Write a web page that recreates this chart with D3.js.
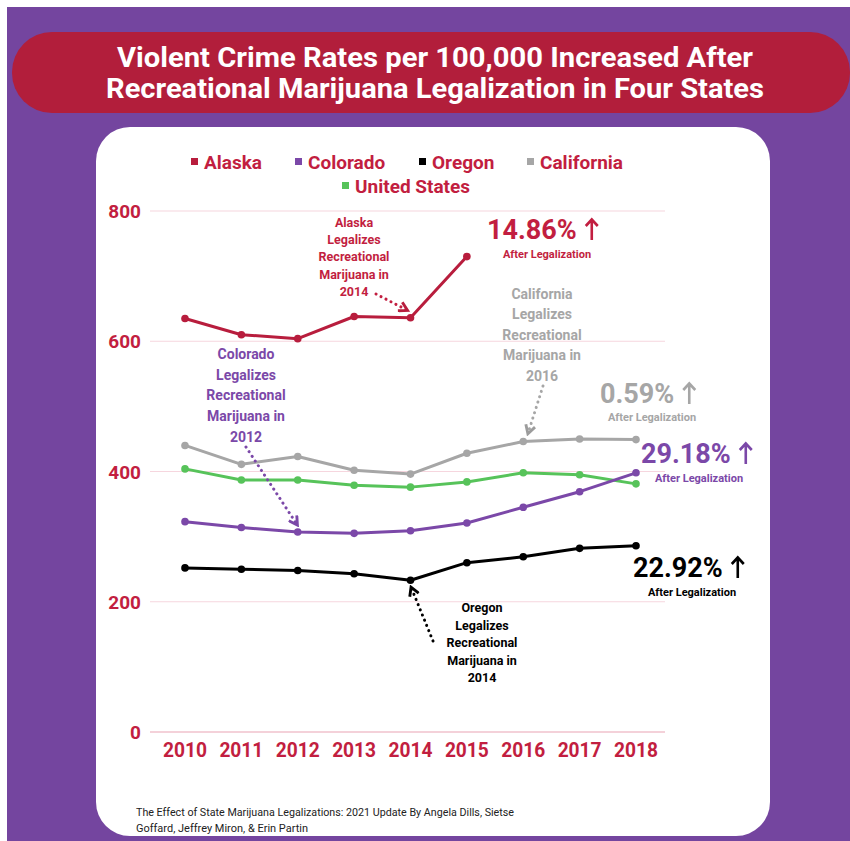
<!DOCTYPE html>
<html>
<head>
<meta charset="utf-8">
<script src="https://d3js.org/d3.v7.min.js"></script>
<style>
    body { margin: 0; background: #fff; font-family: Roboto, "Noto Sans", sans-serif; }
    svg text { font-family: Roboto, "Noto Sans", sans-serif; font-weight: bold; }
</style>
</head>
<body>
<script>
// data (violent crimes per 100,000)
var years = [2010, 2011, 2012, 2013, 2014, 2015, 2016, 2017, 2018];
var alaska = [635, 610, 604, 638, 636, 730];
var colorado = [323, 314, 307, 305, 309, 321, 345, 369, 398];
var oregon = [252, 250, 248, 243, 233, 260, 269, 282, 286];
var california = [440, 411, 423, 402, 396, 428, 446, 450, 449];
var unitedStates = [404, 387, 387, 379, 376, 384, 398, 395, 381];
var yTicks = [0, 200, 400, 600, 800];

var seriesNames = ["Alaska", "Colorado", "Oregon", "California", "United States"];
var seriesValues = [alaska, colorado, oregon, california, unitedStates];
var seriesColors = ["#B81D3D", "#7B48A8", "#000000", "#A6A6A6", "#57C35A"];

var red = "#C21E40";
var purpleBg = "#74459F";

var svg = d3.select("body").append("svg")
    .attr("width", 850)
    .attr("height", 841);

// background + card
svg.append("rect").attr("x", 0).attr("y", 0).attr("width", 850).attr("height", 841).attr("fill", "#fff");
svg.append("rect").attr("x", 7).attr("y", 7).attr("width", 843).attr("height", 834).attr("fill", purpleBg);
svg.append("rect").attr("x", 12).attr("y", 32).attr("width", 838).attr("height", 81)
    .attr("rx", 40).attr("fill", "#B21E3B");
svg.append("rect").attr("x", 96).attr("y", 127).attr("width", 674).attr("height", 709)
    .attr("rx", 34).attr("fill", "#fff");

// title
var title = ["Violent Crime Rates per 100,000 Increased After",
    "Recreational Marijuana Legalization in Four States"];
var titleW = [636, 658];
title.forEach(function(t, i) {
    svg.append("text")
        .attr("x", 435).attr("y", 67 + i * 31)
        .attr("text-anchor", "middle")
        .attr("fill", "#fff")
        .style("font-size", "28px")
        .attr("textLength", titleW[i])
        .attr("lengthAdjust", "spacingAndGlyphs")
        .text(t);
});

var x = d3.scaleLinear().domain([2010, 2018]).range([185, 636]);
var y = d3.scaleLinear().domain([0, 800]).range([732, 211]);

// grid
svg.append("g").selectAll("line")
    .data(yTicks)
    .enter().append("line")
    .attr("x1", 150).attr("x2", 665)
    .attr("y1", function(d) { return y(d); })
    .attr("y2", function(d) { return y(d); })
    .attr("stroke", function(d) { return d === 0 ? "#E9A3B3" : "#F6D6DE"; })
    .attr("stroke-width", 1.2);

svg.append("g").selectAll("text")
    .data(yTicks)
    .enter().append("text")
    .attr("x", 141)
    .attr("y", function(d) { return y(d) + 7; })
    .attr("text-anchor", "end")
    .attr("fill", red)
    .style("font-size", "19px")
    .text(function(d) { return d; });

svg.append("g").selectAll("text")
    .data(years)
    .enter().append("text")
    .attr("x", function(d) { return x(d); })
    .attr("y", 757)
    .attr("text-anchor", "middle")
    .attr("fill", red)
    .style("font-size", "20px")
    .attr("textLength", 44)
    .attr("lengthAdjust", "spacingAndGlyphs")
    .text(function(d) { return d; });

// lines
var line = d3.line()
    .x(function(d, i) { return x(years[i]); })
    .y(function(d) { return y(d); });

var drawOrder = [3, 4, 1, 2, 0];
drawOrder.forEach(function(k) {
    var vals = seriesValues[k];
    svg.append("path")
        .datum(vals)
        .attr("d", line)
        .attr("fill", "none")
        .attr("stroke", seriesColors[k])
        .attr("stroke-width", 3)
        .attr("stroke-linejoin", "round");
    svg.append("g").selectAll("circle")
        .data(vals)
        .enter().append("circle")
        .attr("cx", function(d, i) { return x(years[i]); })
        .attr("cy", function(d) { return y(d); })
        .attr("r", 3.8)
        .attr("fill", seriesColors[k]);
});

// legend
var legendItems = [
    { k: 0, x: 204, y: 169 }, { k: 1, x: 308, y: 169 }, { k: 2, x: 432, y: 169 },
    { k: 3, x: 540, y: 169 }, { k: 4, x: 355, y: 193 }
];
legendItems.forEach(function(l) {
    svg.append("rect")
        .attr("x", l.x - 13).attr("y", l.y - 11)
        .attr("width", 7).attr("height", 7)
        .attr("fill", seriesColors[l.k]);
    svg.append("text")
        .attr("x", l.x).attr("y", l.y)
        .attr("fill", red)
        .style("font-size", "19px")
        .text(seriesNames[l.k]);
});

// annotations
var defs = svg.append("defs");
seriesColors.forEach(function(c, i) {
    defs.append("marker")
        .attr("id", "arr" + i)
        .attr("viewBox", "0 0 10 10")
        .attr("refX", 7).attr("refY", 5)
        .attr("markerWidth", 4).attr("markerHeight", 4)
        .attr("orient", "auto")
        .append("path")
        .attr("d", "M1,1 L8,5 L1,9")
        .attr("fill", "none")
        .attr("stroke", i === 3 ? "#9C9C9C" : c)
        .attr("stroke-width", 2.4);
});

function note(lines, cx, cy, step, size, color) {
    lines.forEach(function(t, i) {
        svg.append("text")
            .attr("x", cx).attr("y", cy + i * step)
            .attr("text-anchor", "middle")
            .attr("fill", color)
            .style("font-size", size + "px")
            .text(t);
    });
}
function arrow(x1, y1, x2, y2, k, color) {
    svg.append("line")
        .attr("x1", x1).attr("y1", y1).attr("x2", x2).attr("y2", y2)
        .attr("stroke", color)
        .attr("stroke-width", 3)
        .attr("stroke-linecap", "round")
        .attr("stroke-dasharray", "0.1,5.5")
        .attr("marker-end", "url(#arr" + k + ")");
}
function pct(label, x0, base, color) {
    var t = svg.append("text")
        .attr("x", x0).attr("y", base)
        .attr("fill", color)
        .style("font-size", "27px")
        .text(label);
    var ax = x0 + t.node().getComputedTextLength() + 15;
    svg.append("path")
        .attr("d", "M" + ax + "," + (base + 1) + " V" + (base - 19) +
            " M" + (ax - 6) + "," + (base - 13) + " L" + ax + "," + (base - 19.5) +
            " L" + (ax + 6) + "," + (base - 13))
        .attr("fill", "none")
        .attr("stroke", color)
        .attr("stroke-width", 2.6);
}
function after(cx, cy, color) {
    svg.append("text")
        .attr("x", cx).attr("y", cy)
        .attr("text-anchor", "middle")
        .attr("fill", color)
        .style("font-size", "11px")
        .text("After Legalization");
}

var legalText = ["Legalizes", "Recreational", "Marijuana in"];

note(["Alaska"].concat(legalText, ["2014"]), 354, 227, 17.2, 12.5, red);
arrow(376, 294, x(2014) - 4, y(alaska[4]) - 8, 0, red);
pct("14.86%", 487, 239, red);
after(547, 258, red);

note(["California"].concat(legalText, ["2016"]), 542, 299, 20.4, 14, "#A6A6A6");
arrow(543, 386, x(2016) + 5, y(california[6]) - 9, 3, "#A6A6A6");
pct("0.59%", 600, 403, "#A6A6A6");
after(652, 421, "#A6A6A6");

note(["Colorado"].concat(legalText, ["2012"]), 246, 359, 20.7, 14, "#7B48A8");
arrow(246, 447, x(2012) - 1, y(colorado[2]) - 8, 1, "#7B48A8");
pct("29.18%", 641, 463, "#7B48A8");
after(699, 482, "#7B48A8");

pct("22.92%", 633, 577, "#000");
after(692, 596, "#000");

note(["Oregon"].concat(legalText, ["2014"]), 482, 612, 17.6, 12.5, "#000");
arrow(433, 641, x(2014) + 1, y(oregon[4]) + 8, 2, "#000");

// source
var src = ["The Effect of State Marijuana Legalizations: 2021 Update By Angela Dills, Sietse",
    "Goffard, Jeffrey Miron, & Erin Partin"];
var srcW = [378, 172];
src.forEach(function(t, i) {
    svg.append("text")
        .attr("x", 136).attr("y", 816 + i * 16)
        .attr("fill", "#222")
        .style("font-size", "10.5px")
        .style("font-weight", "normal")
        .attr("textLength", srcW[i])
        .attr("lengthAdjust", "spacingAndGlyphs")
        .text(t);
});
</script>
</body>
</html>
